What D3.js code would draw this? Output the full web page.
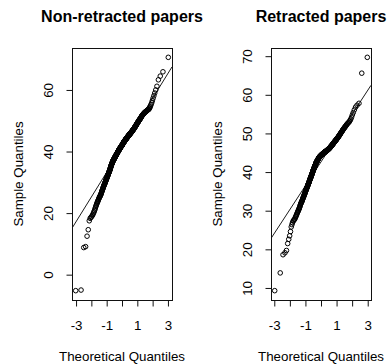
<!DOCTYPE html>
<html>
<head>
<meta charset="utf-8">
<script src="https://cdn.jsdelivr.net/npm/d3@7"></script>
<style>
  body { margin: 0; background: #fff; }
  svg { display: block; font-family: "Liberation Sans", Arial, sans-serif; }
</style>
</head>
<body>
<svg id="chart" width="388" height="364"></svg>
<script>
// Sorted sample values (score per paper)
const nonRetracted = [
  -5.2, -5.0, 8.8, 9.1, 12.5, 14.6, 17.5, 18.3, 18.6, 18.9, 19.2, 19.6,
  20.0, 20.4, 20.8, 21.3, 21.7, 22.2, 22.5, 22.9, 23.2, 23.5,
  23.8, 24.0, 24.3, 24.5, 24.8, 25.0, 25.2, 25.4, 25.5, 25.7, 25.9,
  26.1, 26.3, 26.5, 26.8, 27.0, 27.2, 27.4, 27.6, 27.8, 28.0, 28.2, 28.4, 28.6,
  28.8, 28.9, 29.1, 29.2, 29.4, 29.5, 29.7, 29.8, 30.0,
  30.1, 30.3, 30.4, 30.6, 30.7, 30.9, 31.0, 31.2, 31.3,
  31.4, 31.6, 31.7, 31.8, 32.0, 32.1, 32.2, 32.3, 32.5, 32.6,
  32.7, 32.8, 33.0, 33.1, 33.2, 33.3, 33.4, 33.5, 33.7, 33.8, 33.9,
  34.0, 34.2, 34.3, 34.4, 34.6, 34.7, 34.8, 35.0, 35.1, 35.2, 35.4, 35.5,
  35.6, 35.7, 35.8, 35.9, 36.0, 36.1, 36.2, 36.3, 36.4, 36.5, 36.6, 36.7, 36.8,
  36.9, 37.0, 37.0, 37.1, 37.2, 37.2, 37.3, 37.4, 37.4, 37.5, 37.6, 37.6, 37.7, 37.8,
  37.9, 37.9, 38.0, 38.1, 38.1, 38.2, 38.2, 38.3, 38.4, 38.4, 38.5, 38.5, 38.6, 38.7,
  38.8, 38.8, 38.9, 38.9, 39.0, 39.0, 39.1, 39.2, 39.2, 39.3, 39.3, 39.4, 39.4, 39.5, 39.6,
  39.7, 39.7, 39.8, 39.8, 39.9, 39.9, 40.0, 40.0, 40.1, 40.1, 40.2, 40.3, 40.3, 40.4, 40.4, 40.5,
  40.6, 40.6, 40.7, 40.7, 40.8, 40.8, 40.9, 40.9, 41.0, 41.0, 41.1, 41.1, 41.2, 41.2, 41.3, 41.3,
  41.4, 41.4, 41.5, 41.5, 41.6, 41.6, 41.7, 41.7, 41.7, 41.8, 41.8, 41.9, 41.9, 42.0, 42.0,
  42.1, 42.1, 42.2, 42.2, 42.3, 42.3, 42.4, 42.4, 42.5, 42.6, 42.6, 42.7, 42.7, 42.8, 42.8, 42.9,
  42.9, 43.0, 43.0, 43.1, 43.1, 43.2, 43.2, 43.3, 43.3, 43.3, 43.4, 43.4, 43.5, 43.5, 43.6, 43.6,
  43.7, 43.7, 43.8, 43.8, 43.9, 43.9, 43.9, 44.0, 44.0, 44.1, 44.1, 44.2, 44.2, 44.2, 44.3, 44.3,
  44.4, 44.4, 44.5, 44.5, 44.5, 44.6, 44.6, 44.7, 44.7, 44.8, 44.8, 44.9, 44.9, 45.0, 45.0,
  45.1, 45.1, 45.1, 45.2, 45.2, 45.3, 45.3, 45.3, 45.4, 45.4, 45.5, 45.5, 45.6, 45.6,
  45.6, 45.7, 45.7, 45.8, 45.8, 45.9, 45.9, 45.9, 46.0, 46.0, 46.1, 46.1, 46.2, 46.2,
  46.3, 46.3, 46.4, 46.4, 46.5, 46.5, 46.6, 46.6, 46.7, 46.7, 46.8, 46.8, 46.9,
  47.0, 47.0, 47.1, 47.1, 47.2, 47.2, 47.3, 47.4, 47.4, 47.5, 47.5, 47.6,
  47.7, 47.7, 47.8, 47.9, 48.0, 48.0, 48.1, 48.2, 48.2, 48.3, 48.4,
  48.5, 48.6, 48.6, 48.7, 48.8, 48.9, 49.0, 49.0, 49.1, 49.2,
  49.3, 49.4, 49.5, 49.6, 49.6, 49.7, 49.8, 49.9, 50.0,
  50.1, 50.2, 50.3, 50.4, 50.4, 50.5, 50.6, 50.7, 50.8,
  50.9, 51.0, 51.1, 51.3, 51.4, 51.5, 51.6,
  51.7, 51.8, 51.9, 52.0, 52.1, 52.2,
  52.3, 52.4, 52.5, 52.6, 52.7, 52.8,
  52.9, 52.9, 53.0, 53.1, 53.2, 53.3, 53.4, 53.5, 53.6,
  53.7, 53.8, 54.1, 54.4, 54.8, 55.3, 55.8, 56.5, 57.3, 58.1, 59.0, 60.0,
  61.2, 63.3, 64.5, 65.9, 70.6
];

const retracted = [
  9.3, 13.9, 18.6, 19.1, 19.7, 21.5, 22.6, 23.5, 24.6, 25.8, 26.4, 26.9, 27.3, 27.5, 27.7, 27.8,
  28.1, 28.4, 28.6, 28.9, 29.1, 29.4, 29.6,
  29.8, 30.0, 30.2, 30.4, 30.6, 30.8, 31.0, 31.3, 31.5, 31.7,
  31.9, 32.0, 32.2, 32.3, 32.5, 32.6, 32.8,
  33.0, 33.1, 33.3, 33.4, 33.6, 33.7, 33.9,
  34.0, 34.2, 34.3, 34.4, 34.6, 34.7, 34.9, 35.0,
  35.1, 35.3, 35.4, 35.5, 35.6, 35.8, 35.9, 36.0,
  36.1, 36.2, 36.3, 36.4, 36.6, 36.7, 36.8, 36.9, 37.0, 37.1,
  37.2, 37.3, 37.4, 37.5, 37.7, 37.8, 37.9, 38.0, 38.1, 38.2,
  38.3, 38.4, 38.5, 38.6, 38.7, 38.8, 38.9, 39.0, 39.1, 39.2, 39.3,
  39.4, 39.5, 39.6, 39.7, 39.8, 39.9, 40.0, 40.1, 40.2, 40.3, 40.4,
  40.5, 40.6, 40.7, 40.7, 40.8, 40.9, 41.0, 41.1, 41.2, 41.2, 41.3, 41.4, 41.5,
  41.6, 41.7, 41.7, 41.8, 41.9, 42.0, 42.1, 42.2, 42.2, 42.3, 42.4, 42.5,
  42.6, 42.6, 42.7, 42.7, 42.8, 42.8, 42.9, 42.9, 43.0, 43.0, 43.1, 43.2, 43.2, 43.3,
  43.3, 43.4, 43.4, 43.5, 43.5, 43.6, 43.6, 43.7, 43.7, 43.8, 43.8, 43.9, 43.9,
  43.9, 44.0, 44.0, 44.0, 44.1, 44.1, 44.1, 44.2, 44.2, 44.2, 44.2, 44.3, 44.3,
  44.3, 44.4, 44.4, 44.4, 44.5, 44.5, 44.5, 44.5, 44.6, 44.6, 44.6, 44.6, 44.7, 44.7,
  44.7, 44.7, 44.8, 44.8, 44.8, 44.8, 44.9, 44.9, 44.9, 44.9, 45.0, 45.0, 45.0,
  45.0, 45.1, 45.1, 45.1, 45.1, 45.2, 45.2, 45.2, 45.2, 45.3, 45.3, 45.3, 45.3, 45.3,
  45.4, 45.4, 45.4, 45.4, 45.5, 45.5, 45.5, 45.5, 45.6, 45.6, 45.6, 45.6,
  45.7, 45.7, 45.7, 45.8, 45.8, 45.8, 45.8, 45.9, 45.9, 45.9, 46.0, 46.0, 46.0,
  46.0, 46.1, 46.1, 46.2, 46.2, 46.2, 46.3, 46.3, 46.3, 46.4, 46.4,
  46.5, 46.5, 46.6, 46.6, 46.7, 46.7, 46.7, 46.8, 46.8, 46.9, 46.9,
  47.0, 47.0, 47.1, 47.1, 47.2, 47.2, 47.3, 47.3, 47.4, 47.4,
  47.5, 47.5, 47.6, 47.7, 47.7, 47.8, 47.8, 47.9, 47.9, 48.0,
  48.1, 48.1, 48.2, 48.2, 48.3, 48.3, 48.4, 48.4,
  48.5, 48.6, 48.7, 48.7, 48.8, 48.9, 48.9, 49.0,
  49.1, 49.2, 49.3, 49.3, 49.4, 49.5, 49.6,
  49.7, 49.8, 49.9, 50.0, 50.1, 50.2, 50.3,
  50.4, 50.5, 50.6, 50.8, 50.9, 51.0, 51.1, 51.2, 51.4, 51.5,
  51.6, 51.7, 51.9, 52.0, 52.2, 52.3, 52.5, 52.6, 52.8, 52.9,
  53.1, 53.4, 53.7, 54.2, 54.8, 55.4, 56.1, 56.8, 57.3, 57.8, 65.6, 69.7
];

const panelTitles = ["Non-retracted papers", "Retracted papers"];
const xTickValues = [-3, -2, -1, 0, 1, 2, 3];
const xTickLabels = [-3, -1, 1, 3];
const yTicksNonRetracted = [0, 20, 40, 60];
const yTicksRetracted = [10, 20, 30, 40, 50, 60, 70];
const xAxisTitle = "Theoretical Quantiles";
const yAxisTitle = "Sample Quantiles";

// Inverse of the standard normal CDF (Acklam's rational approximation)
function qnorm(p) {
  const a = [-3.969683028665376e+01, 2.209460984245205e+02, -2.759285104469687e+02,
             1.383577518672690e+02, -3.066479806614716e+01, 2.506628277459239e+00];
  const b = [-5.447609879822406e+01, 1.615858368580409e+02, -1.556989798598866e+02,
             6.680131188771972e+01, -1.328068155288572e+01];
  const c = [-7.784894002430293e-03, -3.223964580411365e-01, -2.400758277161838e+00,
             -2.549732539343734e+00, 4.374664141464968e+00, 2.938163982698783e+00];
  const d = [7.784695709041462e-03, 3.224671290700398e-01, 2.445134137142996e+00,
             3.754408661907416e+00];
  const pl = 0.02425, ph = 1 - pl;
  let q, r;
  if (p < pl) {
    q = Math.sqrt(-2 * Math.log(p));
    return (((((c[0]*q+c[1])*q+c[2])*q+c[3])*q+c[4])*q+c[5]) /
           ((((d[0]*q+d[1])*q+d[2])*q+d[3])*q+1);
  }
  if (p > ph) {
    q = Math.sqrt(-2 * Math.log(1 - p));
    return -(((((c[0]*q+c[1])*q+c[2])*q+c[3])*q+c[4])*q+c[5]) /
            ((((d[0]*q+d[1])*q+d[2])*q+d[3])*q+1);
  }
  q = p - 0.5; r = q * q;
  return (((((a[0]*r+a[1])*r+a[2])*r+a[3])*r+a[4])*r+a[5])*q /
         (((((b[0]*r+b[1])*r+b[2])*r+b[3])*r+b[4])*r+1);
}

// plotting positions, as in R's ppoints()
function ppoints(n) {
  const a = n <= 10 ? 3 / 8 : 0.5;
  return d3.range(1, n + 1).map(i => (i - a) / (n + 1 - 2 * a));
}

// axis range padded by 4% on each side
function padded(ext) {
  const r = ext[1] - ext[0];
  return [ext[0] - 0.04 * r, ext[1] + 0.04 * r];
}

const FONT = '"Liberation Sans", Arial, sans-serif';
const BASE = 13.33;
const plotTop = 48, plotBottom = 300;

const panels = [
  { title: panelTitles[0], values: nonRetracted, yTicks: yTicksNonRetracted, left: 72, right: 172 },
  { title: panelTitles[1], values: retracted, yTicks: yTicksRetracted, left: 271, right: 371 }
];

const svg = d3.select("#chart");
svg.append("rect").attr("width", 388).attr("height", 364).attr("fill", "#fff");

panels.forEach((p, k) => {
  const sorted = p.values.slice().sort(d3.ascending);
  const n = sorted.length;
  const theo = ppoints(n).map(qnorm);
  const pts = sorted.map((v, i) => ({ q: theo[i], v }));

  const x = d3.scaleLinear().domain(padded(d3.extent(theo))).range([p.left, p.right]);
  const y = d3.scaleLinear().domain(padded(d3.extent(sorted))).range([plotBottom, plotTop]);

  const g = svg.append("g");

  const clipId = "clip" + k;
  svg.append("clipPath").attr("id", clipId)
    .append("rect")
    .attr("x", p.left).attr("y", plotTop)
    .attr("width", p.right - p.left).attr("height", plotBottom - plotTop);

  // reference line through the first and third quartiles
  const q1 = d3.quantile(sorted, 0.25), q3 = d3.quantile(sorted, 0.75);
  const z1 = qnorm(0.25), z3 = qnorm(0.75);
  const slope = (q3 - q1) / (z3 - z1);
  const intercept = q1 - slope * z1;
  const xd = x.domain();
  g.append("line")
    .attr("clip-path", `url(#${clipId})`)
    .attr("x1", x(xd[0])).attr("y1", y(intercept + slope * xd[0]))
    .attr("x2", x(xd[1])).attr("y2", y(intercept + slope * xd[1]))
    .attr("stroke", "#000").attr("stroke-width", 0.9);

  // sample points
  g.append("g").selectAll("circle").data(pts).join("circle")
    .attr("cx", d => x(d.q)).attr("cy", d => y(d.v))
    .attr("r", 2.3)
    .attr("fill", "none").attr("stroke", "#000").attr("stroke-width", 1);

  // plot frame
  g.append("rect")
    .attr("x", p.left + 0.5).attr("y", plotTop + 0.5)
    .attr("width", p.right - p.left).attr("height", plotBottom - plotTop)
    .attr("fill", "none").attr("stroke", "#111").attr("stroke-width", 1);

  // x axis
  const gx = g.append("g").attr("transform", `translate(0,${plotBottom + 0.5})`)
    .call(d3.axisBottom(x).tickValues(xTickValues).tickSize(6).tickSizeOuter(0)
      .tickPadding(13.8)
      .tickFormat(d => xTickLabels.includes(d) ? String(d) : ""));
  gx.select(".domain").remove();
  gx.attr("font-size", BASE).attr("font-family", FONT);
  gx.selectAll(".tick line").attr("stroke", "#111");
  gx.selectAll("text").attr("fill", "#000");

  // y axis with labels parallel to the axis
  const gy = g.append("g").attr("transform", `translate(${p.left + 0.5},0)`)
    .call(d3.axisLeft(y).tickValues(p.yTicks).tickSize(6).tickSizeOuter(0)
      .tickFormat(d => String(d)));
  gy.select(".domain").remove();
  gy.attr("font-size", BASE).attr("font-family", FONT);
  gy.selectAll(".tick line").attr("stroke", "#111");
  gy.selectAll("text")
    .attr("transform", "rotate(-90)")
    .attr("x", 0).attr("y", -24).attr("dy", "0.35em")
    .attr("text-anchor", "middle").attr("fill", "#000");

  const cx = (p.left + p.right) / 2;
  const cy = (plotTop + plotBottom) / 2;

  // panel title
  g.append("text")
    .attr("x", cx).attr("y", 22)
    .attr("text-anchor", "middle")
    .attr("font-family", FONT).attr("font-size", 16).attr("font-weight", "bold")
    .text(p.title);

  // axis titles
  g.append("text")
    .attr("x", cx).attr("y", 360.7)
    .attr("text-anchor", "middle")
    .attr("font-family", FONT).attr("font-size", BASE)
    .text(xAxisTitle);

  g.append("text")
    .attr("transform", `translate(${p.left - 54},${cy}) rotate(-90)`)
    .attr("dy", "0.35em")
    .attr("text-anchor", "middle")
    .attr("font-family", FONT).attr("font-size", BASE)
    .text(yAxisTitle);
});
</script>
</body>
</html>
